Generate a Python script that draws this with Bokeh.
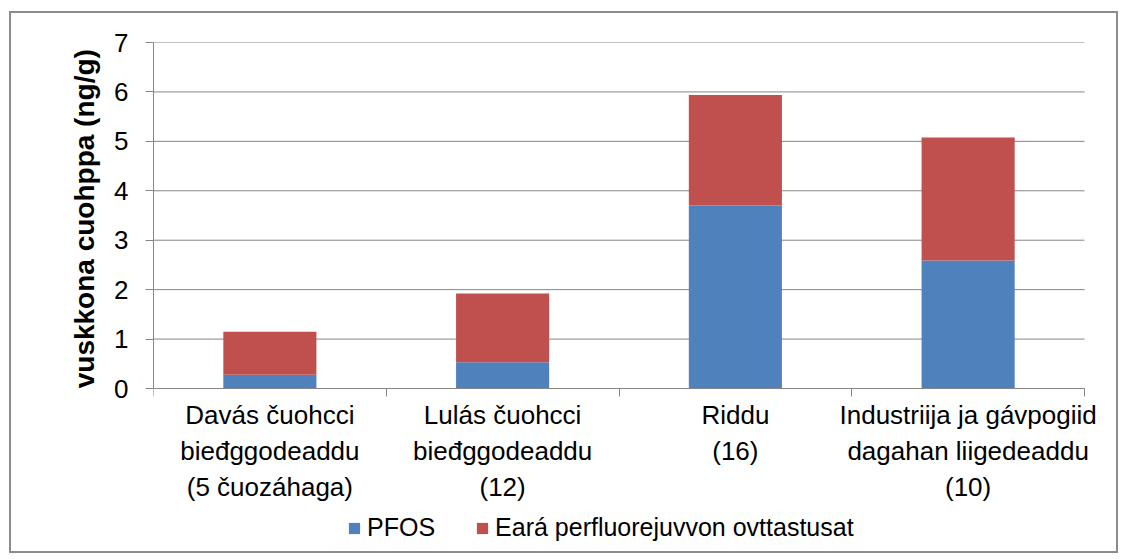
from bokeh.plotting import figure
from bokeh.models import FixedTicker, Legend, LegendItem, ColumnDataSource, Range1d, Title
from bokeh.embed import file_html
from bokeh.resources import INLINE

categories = ["Davás čuohcci\nbieđggodeaddu\n(5 čuozáhaga)",
              "Lulás čuohcci\nbieđggodeaddu\n(12)",
              "Riddu\n(16)",
              "Industriija ja gávpogiid\ndagahan liigedeaddu\n(10)"]
pfos = [0.28, 0.53, 3.70, 2.59]
other = [0.87, 1.39, 2.24, 2.49]
series_names = ["PFOS", "Eará perfluorejuvvon ovttastusat"]
colors = ["#4F81BD", "#C0504D"]
y_ticks = [0, 1, 2, 3, 4, 5, 6, 7]
y_label = "vuskkona cuohppa  (ng/g)"

n = len(categories)
xpos = [i + 0.5 for i in range(n)]
src = ColumnDataSource(dict(x=xpos, pfos=pfos, other=other))

FONT = "Liberation Sans"
GRAY = "#868686"

# frame extends below/right of the value area to hold category labels and legend
PLOT_W = 931
FRAME_W = 958
FRAME_H = 508
ZERO_FROM_TOP = 346
ymax = 7
ymin = -(ymax * FRAME_H / ZERO_FROM_TOP - ymax)
xmax = n * FRAME_W / PLOT_W

p = figure(frame_width=FRAME_W, frame_height=FRAME_H,
           min_border_left=142, min_border_right=5, min_border_top=29, min_border_bottom=1,
           x_range=Range1d(0, xmax), y_range=Range1d(ymin, ymax),
           output_backend="svg", toolbar_location=None)
p.styles = {"border": "2px solid #8c8c8c", "margin-left": "9px", "margin-top": "11px"}
p.outline_line_color = None

# horizontal gridlines across the category extent
p.segment(x0=[0] * len(y_ticks), x1=[n] * len(y_ticks), y0=y_ticks, y1=y_ticks,
          line_color=GRAY, line_width=1)

r = p.vbar_stack(["pfos", "other"], x="x", width=0.4, source=src,
                 color=colors, line_color=None)

# x axis
p.xaxis.fixed_location = 0
p.xaxis.bounds = (0, n)
p.xaxis.ticker = FixedTicker(ticks=xpos, minor_ticks=list(range(n + 1)))
p.xaxis.major_label_overrides = {x: c for x, c in zip(xpos, categories)}
p.xaxis.major_tick_out = 0
p.xaxis.major_tick_in = 0
p.xaxis.minor_tick_out = 8
p.xaxis.minor_tick_in = 0
p.xaxis.minor_tick_line_color = GRAY
p.xaxis.axis_line_color = GRAY
p.xaxis.major_label_text_font = FONT
p.xaxis.major_label_text_font_size = "26px"
p.xaxis.major_label_text_color = "#000000"
p.xaxis.major_label_standoff = 3
p.xgrid.grid_line_color = None
p.ygrid.grid_line_color = None

# y axis
p.yaxis.bounds = (0, ymax)
p.yaxis.ticker = FixedTicker(ticks=y_ticks)
p.yaxis.major_tick_out = 8
p.yaxis.major_tick_in = 0
p.yaxis.minor_tick_line_color = None
p.yaxis.major_tick_line_color = GRAY
p.yaxis.axis_line_color = GRAY
p.yaxis.major_label_text_font = FONT
p.yaxis.major_label_text_font_size = "26px"
p.yaxis.major_label_text_color = "#000000"
p.yaxis.major_label_standoff = 17

# leading no-break spaces shift the centred vertical title up over the value axis
ytitle = Title(text="\u00a0" * 21 + y_label, align="center", standoff=24,
               text_font=FONT, text_font_size="28px", text_font_style="bold",
               text_color="#000000")
p.add_layout(ytitle, "left")

legend = Legend(items=[LegendItem(label=nm, renderers=[rr]) for nm, rr in zip(series_names, r)],
                orientation="horizontal", location=(194, 8),
                label_text_font=FONT, label_text_font_size="25px", label_text_color="#000000",
                glyph_width=14, glyph_height=14, label_standoff=6, spacing=40,
                border_line_color=None, background_fill_alpha=0, padding=0, margin=0)
p.add_layout(legend, "center")

open("out.html", "w").write(file_html(p, INLINE))
